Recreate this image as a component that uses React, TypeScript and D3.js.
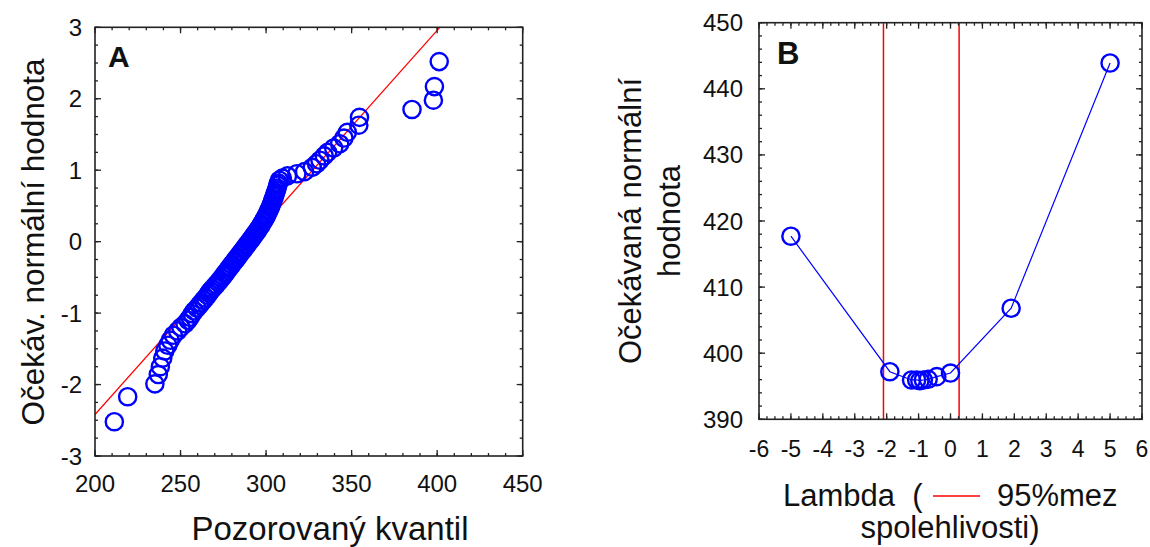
import React from 'react';
import * as d3 from 'd3';

// Panel A: normal probability plot
const observedQuantile = [
  211.3, 219.1, 235.0, 237.0, 238.2, 239.6, 240.8, 242.6, 244.0, 245.8,
  248.3, 250.2, 252.6, 254.4, 255.6, 256.8, 258.0, 259.6, 261.0, 262.0,
  263.4, 264.5, 265.8, 266.6, 267.5, 268.6, 269.8, 270.9, 272.0, 273.0,
  274.0, 275.0, 275.9, 276.6, 277.5, 278.4, 279.1, 280.0, 281.0, 281.7,
  282.6, 283.3, 284.2, 285.1, 285.8, 286.8, 287.4, 288.3, 289.0, 289.9,
  290.6, 291.5, 292.1, 293.0, 293.6, 294.5, 295.1, 295.9, 296.8, 297.3,
  298.0, 298.5, 299.2, 299.9, 300.3, 300.9, 301.5, 301.9, 302.5, 302.9,
  303.4, 303.8, 304.3, 304.8, 305.2, 305.6, 306.0, 306.4, 306.8, 307.2,
  307.8, 309.5, 312.5, 318.0, 322.5, 327.0, 329.5, 331.5, 334.0, 336.0,
  339.5, 343.0, 345.5, 347.5, 354.2, 354.6, 385.3, 397.8, 398.4, 401.2,
];
const expectedNormal = [
  -2.52, -2.17, -1.99, -1.86, -1.75, -1.63, -1.53, -1.45, -1.38, -1.31,
  -1.25, -1.2, -1.15, -1.1, -1.06, -1.01, -0.97, -0.93, -0.89, -0.86,
  -0.82, -0.79, -0.75, -0.72, -0.69, -0.66, -0.63, -0.6, -0.57, -0.54,
  -0.51, -0.48, -0.45, -0.43, -0.4, -0.37, -0.35, -0.32, -0.29, -0.27,
  -0.24, -0.22, -0.19, -0.16, -0.14, -0.11, -0.09, -0.06, -0.04, -0.01,
  0.01, 0.04, 0.06, 0.09, 0.11, 0.14, 0.16, 0.19, 0.22, 0.24,
  0.27, 0.29, 0.32, 0.35, 0.37, 0.4, 0.43, 0.45, 0.48, 0.51,
  0.54, 0.57, 0.6, 0.63, 0.66, 0.69, 0.72, 0.75, 0.79, 0.82,
  0.86, 0.89, 0.92, 0.95, 0.98, 1.04, 1.09, 1.14, 1.2, 1.25,
  1.31, 1.37, 1.45, 1.53, 1.63, 1.74, 1.85, 1.98, 2.17, 2.52,
];
const fitMean = 290;
const fitSd = 37.2;
const xTicksA = [200, 250, 300, 350, 400, 450];
const yTicksA = [-3, -2, -1, 0, 1, 2, 3];

// Panel B: Box-Cox lambda
const lambdaValues = [-5, -1.9, -1.22, -1.06, -0.96, -0.85, -0.7, -0.43, 0, 1.9, 5];
const lambdaStat = [417.7, 397.2, 395.95, 395.95, 395.85, 395.95, 396.05, 396.45, 397.0, 406.8, 443.9];
const confLimits = [-2.1, 0.27];
const xTicksB = [-6, -5, -4, -3, -2, -1, 0, 1, 2, 3, 4, 5, 6];
const yTicksB = [390, 400, 410, 420, 430, 440, 450];

const FONT = "'Liberation Sans', Arial, sans-serif";
const BLUE = '#0000ff';
const RED = '#ff0000';
const AXIS = '#222';

type Sc = d3.ScaleLinear<number, number>;

function Frame({ x, y, majorX, minorX, majorY, minorY }: { x: Sc; y: Sc; majorX: number[]; minorX: number[]; majorY: number[]; minorY: number[] }) {
  const [x0, x1] = x.range();
  const [y0, y1] = y.range(); // y0 bottom, y1 top
  const lines: JSX.Element[] = [];
  const add = (k: string, a: number, b: number, c: number, d: number) =>
    lines.push(<line key={k} x1={a} y1={b} x2={c} y2={d} stroke={AXIS} strokeWidth={1.3} />);
  minorX.forEach((v, i) => {
    const px = x(v);
    add('mxb' + i, px, y0, px, y0 - 3);
    add('mxt' + i, px, y1, px, y1 + 3);
  });
  majorX.forEach((v, i) => {
    const px = x(v);
    add('Mxb' + i, px, y0, px, y0 - 6);
    add('Mxt' + i, px, y1, px, y1 + 6);
  });
  minorY.forEach((v, i) => {
    const py = y(v);
    add('myl' + i, x0, py, x0 + 3, py);
    add('myr' + i, x1, py, x1 - 3, py);
  });
  majorY.forEach((v, i) => {
    const py = y(v);
    add('Myl' + i, x0, py, x0 + 6, py);
    add('Myr' + i, x1, py, x1 - 6, py);
  });
  return (
    <g>
      {lines}
      <rect x={x0} y={y1} width={x1 - x0} height={y0 - y1} fill="none" stroke={AXIS} strokeWidth={1.6} />
    </g>
  );
}

export default function App() {
  // Panel A scales
  const xA = d3.scaleLinear().domain([200, 450]).range([95, 522.7]);
  const yA = d3.scaleLinear().domain([-3, 3]).range([456, 27.3]);
  // Panel B scales
  const xB = d3.scaleLinear().domain([-6, 6]).range([759, 1142]);
  const yB = d3.scaleLinear().domain([390, 450]).range([419.3, 22.7]);

  const minorXA = d3.range(200, 450.001, 10);
  const minorYA = d3.range(-3, 3.001, 0.25);
  const minorXB = d3.range(-6, 6.001, 0.25);
  const minorYB = d3.range(390, 450.001, 2);

  const fitLine = d3.line<number>().x((v) => xA(v)).y((v) => yA((v - fitMean) / fitSd));
  const lambdaLine = d3.line<number>().x((_, i) => xB(lambdaValues[i])).y((v) => yB(v));

  return (
    <svg width={1150} height={547} style={{ display: 'block', position: 'absolute', left: 0, top: 0 }} fontFamily={FONT}>
      <defs>
        <clipPath id="clipA">
          <rect x={95} y={27.3} width={427.7} height={428.7} />
        </clipPath>
      </defs>
      <rect x={0} y={0} width={1150} height={547} fill="#fff" />

      {/* Panel A */}
      <path d={fitLine([200, 450]) || ''} stroke={RED} strokeWidth={1.2} fill="none" clipPath="url(#clipA)" />
      {observedQuantile.map((v, i) => (
        <circle key={i} cx={xA(v)} cy={yA(expectedNormal[i])} r={8.6} fill="none" stroke={BLUE} strokeWidth={2.4} />
      ))}
      <Frame x={xA} y={yA} majorX={xTicksA} minorX={minorXA} majorY={yTicksA} minorY={minorYA} />
      {xTicksA.map((v) => (
        <text key={v} x={xA(v)} y={492} fontSize={24} textAnchor="middle" fill="#111">{String(v)}</text>
      ))}
      {yTicksA.map((v) => (
        <text key={v} x={82} y={yA(v) + 8.5} fontSize={24} textAnchor="end" fill="#111">{String(v)}</text>
      ))}
      <text x={108} y={66.7} fontSize={30} fontWeight="bold" fill="#111">A</text>
      <text x={330} y={540} fontSize={33} textAnchor="middle" fill="#111">Pozorovaný kvantil</text>
      <text transform={`translate(44,242) rotate(-90)`} fontSize={31.5} textAnchor="middle" fill="#111">Očekáv. normální hodnota</text>

      {/* Panel B */}
      {confLimits.map((v) => (
        <line key={v} x1={xB(v)} x2={xB(v)} y1={yB(450)} y2={yB(390)} stroke={RED} strokeWidth={1.5} />
      ))}
      <path d={lambdaLine(lambdaStat) || ''} stroke={BLUE} strokeWidth={1.2} fill="none" />
      {lambdaStat.map((v, i) => (
        <circle key={i} cx={xB(lambdaValues[i])} cy={yB(v)} r={8.6} fill="none" stroke={BLUE} strokeWidth={2.4} />
      ))}
      <Frame x={xB} y={yB} majorX={xTicksB} minorX={minorXB} majorY={yTicksB} minorY={minorYB} />
      {xTicksB.map((v) => (
        <text key={v} x={xB(v)} y={457} fontSize={23} textAnchor="middle" fill="#111">{String(v)}</text>
      ))}
      {yTicksB.map((v) => (
        <text key={v} x={743} y={yB(v) + 8.5} fontSize={24} textAnchor="end" fill="#111">{String(v)}</text>
      ))}
      <text x={777} y={64} fontSize={31} fontWeight="bold" fill="#111">B</text>
      <text x={783} y={506} fontSize={31} fill="#111" style={{ whiteSpace: 'pre' }}>{'Lambda  ('}</text>
      <line x1={933} x2={980} y1={496} y2={496} stroke={RED} strokeWidth={1.5} />
      <text x={997} y={506} fontSize={31} fill="#111">95%mez</text>
      <text x={950} y={538} fontSize={31} textAnchor="middle" fill="#111">spolehlivosti)</text>
      <text transform={`translate(641,221) rotate(-90)`} fontSize={31} textAnchor="middle" fill="#111">Očekávaná normální</text>
      <text transform={`translate(680,221) rotate(-90)`} fontSize={31} textAnchor="middle" fill="#111">hodnota</text>
    </svg>
  );
}
